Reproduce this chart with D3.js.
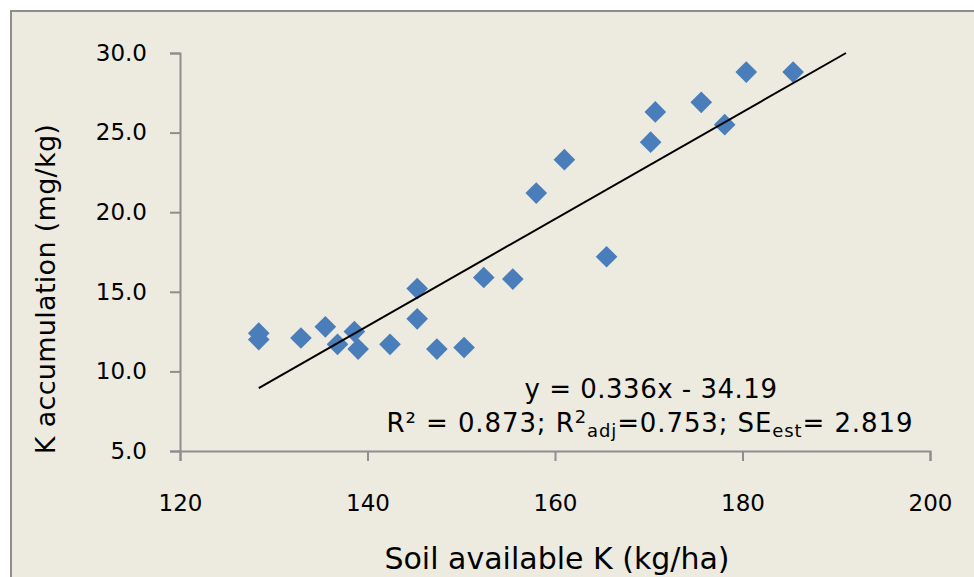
<!DOCTYPE html>
<html>
<head>
<meta charset="utf-8">
<script src="https://cdn.jsdelivr.net/npm/d3@7"></script>
<style>
  body { margin: 0; background: #ffffff; }
  text { font-family: "DejaVu Sans", Verdana, sans-serif; fill: #000; }
</style>
</head>
<body>
<div id="main"></div>
<script>
// soil available K (kg/ha) vs K accumulation (mg/kg)
var soilK = [128.4, 128.4, 132.9, 135.5, 136.8, 138.6, 139.0, 142.4, 145.3, 145.3, 147.4, 150.3,
  152.4, 155.5, 158.0, 161.0, 165.5, 170.2, 170.7, 175.6, 178.1, 180.4, 185.4];
var kAccum = [12.4, 12.0, 12.1, 12.8, 11.7, 12.5, 11.4, 11.7, 15.2, 13.3, 11.4, 11.5,
  15.9, 15.8, 21.2, 23.3, 17.2, 24.4, 26.3, 26.9, 25.5, 28.8, 28.8];

var xTicks = [120, 140, 160, 180, 200];
var yTicks = [5, 10, 15, 20, 25, 30];

var slope = 0.336, intercept = -34.19;

var width = 974, height = 577;

var svg = d3.select("#main").append("svg")
  .attr("width", width)
  .attr("height", height);

// chart frame
svg.append("rect")
  .attr("x", 11).attr("y", 11)
  .attr("width", width + 20).attr("height", height + 20)
  .attr("fill", "#edeae0")
  .attr("stroke", "#8e8e8e")
  .attr("stroke-width", 2);

var x = d3.scaleLinear().domain([120, 200]).range([180, 930]);
var y = d3.scaleLinear().domain([5, 30]).range([451, 53]);

var xAxis = svg.append("g")
  .attr("transform", "translate(0,451)")
  .call(d3.axisBottom(x).tickValues(xTicks).tickSize(10).tickPadding(34).tickFormat(d3.format("d")));

var yAxis = svg.append("g")
  .attr("transform", "translate(180,0)")
  .call(d3.axisLeft(y).tickValues(yTicks).tickSize(10).tickPadding(23).tickFormat(d3.format(".1f")));

[xAxis, yAxis].forEach(function(a) {
  a.select(".domain").attr("stroke", "#8e8e8e").attr("stroke-width", 2);
  a.selectAll(".tick line").attr("stroke", "#8e8e8e").attr("stroke-width", 2);
  a.selectAll(".tick text").attr("font-size", 23).attr("font-family", "DejaVu Sans").attr("fill", "#000");
});

// diamond markers
var diamond = d3.symbol().type(d3.symbolSquare).size(235);
svg.append("g").selectAll("path")
  .data(soilK)
  .enter().append("path")
  .attr("d", diamond)
  .attr("transform", function(d, i) {
    return "translate(" + x(d) + "," + y(kAccum[i]) + ") rotate(45)";
  })
  .attr("fill", "#4a7ebb");

// linear trendline
var xStart = d3.min(soilK);
var xEnd = Math.min((30 - intercept) / slope, 200);
svg.append("line")
  .attr("x1", x(xStart)).attr("y1", y(slope * xStart + intercept))
  .attr("x2", x(xEnd)).attr("y2", y(slope * xEnd + intercept))
  .attr("stroke", "#000")
  .attr("stroke-width", 2);

// equation label
svg.append("text")
  .attr("x", 651).attr("y", 398)
  .attr("text-anchor", "middle")
  .attr("font-size", 26)
  .attr("letter-spacing", 0.5)
  .text("y = 0.336x - 34.19");

var stats = svg.append("text")
  .attr("x", 650).attr("y", 432)
  .attr("text-anchor", "middle")
  .attr("font-size", 26)
  .attr("letter-spacing", 0.9);
stats.append("tspan").text("R² = 0.873; R");
stats.append("tspan").attr("font-size", 18).attr("dy", -9).text("2");
stats.append("tspan").attr("font-size", 18).attr("dy", 14).text("adj");
stats.append("tspan").attr("dy", -5).text("=0.753; SE");
stats.append("tspan").attr("font-size", 18).attr("dy", 5).text("est");
stats.append("tspan").attr("dy", -5).text("=  2.819");

// axis titles
svg.append("text")
  .attr("x", 557).attr("y", 569)
  .attr("text-anchor", "middle")
  .attr("font-size", 30)
  .text("Soil available K (kg/ha)");

svg.append("text")
  .attr("transform", "translate(55,289) rotate(-90)")
  .attr("text-anchor", "middle")
  .attr("font-size", 27)
  .attr("letter-spacing", 0.3)
  .text("K accumulation  (mg/kg)");
</script>
</body>
</html>
